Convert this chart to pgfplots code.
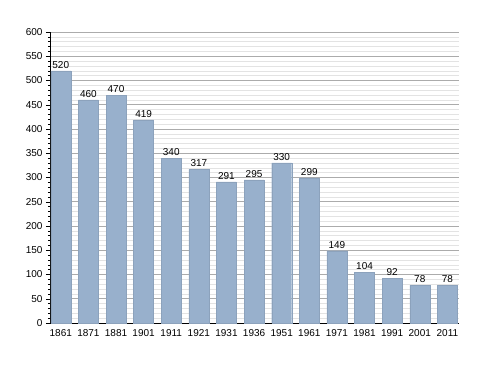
\documentclass[border=0pt]{standalone}
\usepackage{pgfplots}
\pgfplotsset{compat=1.18}
\usepackage{fontspec}
\setmainfont{Liberation Sans}
\definecolor{barc}{HTML}{98B0CC}
\begin{document}
\begin{tikzpicture}[x=1pt,y=1pt]
\useasboundingbox (-50,-50) rectangle (438,323);
\begin{axis}[
  at={(0,0)}, anchor=south west,
  scale only axis, width=409pt, height=291pt,
  xmin=-0.39, xmax=14.42, ymin=0, ymax=600,
  ytick={0,50,...,600}, minor y tick num=4,
  xtick=data,
  xticklabels={1861,1871,1881,1901,1911,1921,1931,1936,1951,1961,1971,1981,1991,2001,2011},
  axis x line*=bottom, axis y line*=left,
  x axis line style={-}, y axis line style={-},
  ymajorgrids, yminorgrids,
  major grid style={color=black!33, line width=0.6pt},
  minor grid style={color=black!11, line width=0.6pt},
  major x tick style={draw=none},
  major y tick style={black, line width=0.5pt},
  minor y tick style={black, line width=0.5pt},
  tick align=outside, major tick length=4pt, minor tick length=2pt,
  tick label style={font=\fontsize{10}{12}\selectfont},
  /pgf/number format/assume math mode=true,
  xticklabel style={yshift=1pt},
  axis line style={line width=0.7pt},
  clip=false,
]
\addplot[ybar, bar width=20pt, bar shift=0pt, fill=barc, draw=barc!92!black, line width=0.3pt,
  nodes near coords,
  nodes near coords style={font=\fontsize{10}{12}\selectfont, black, yshift=-1pt}]
  coordinates {(0,520) (1,460) (2,470) (3,419) (4,340) (5,317) (6,291) (7,295) (8,330) (9,299) (10,149) (11,104) (12,92) (13,78) (14,78)};
\end{axis}
\end{tikzpicture}
\end{document}
